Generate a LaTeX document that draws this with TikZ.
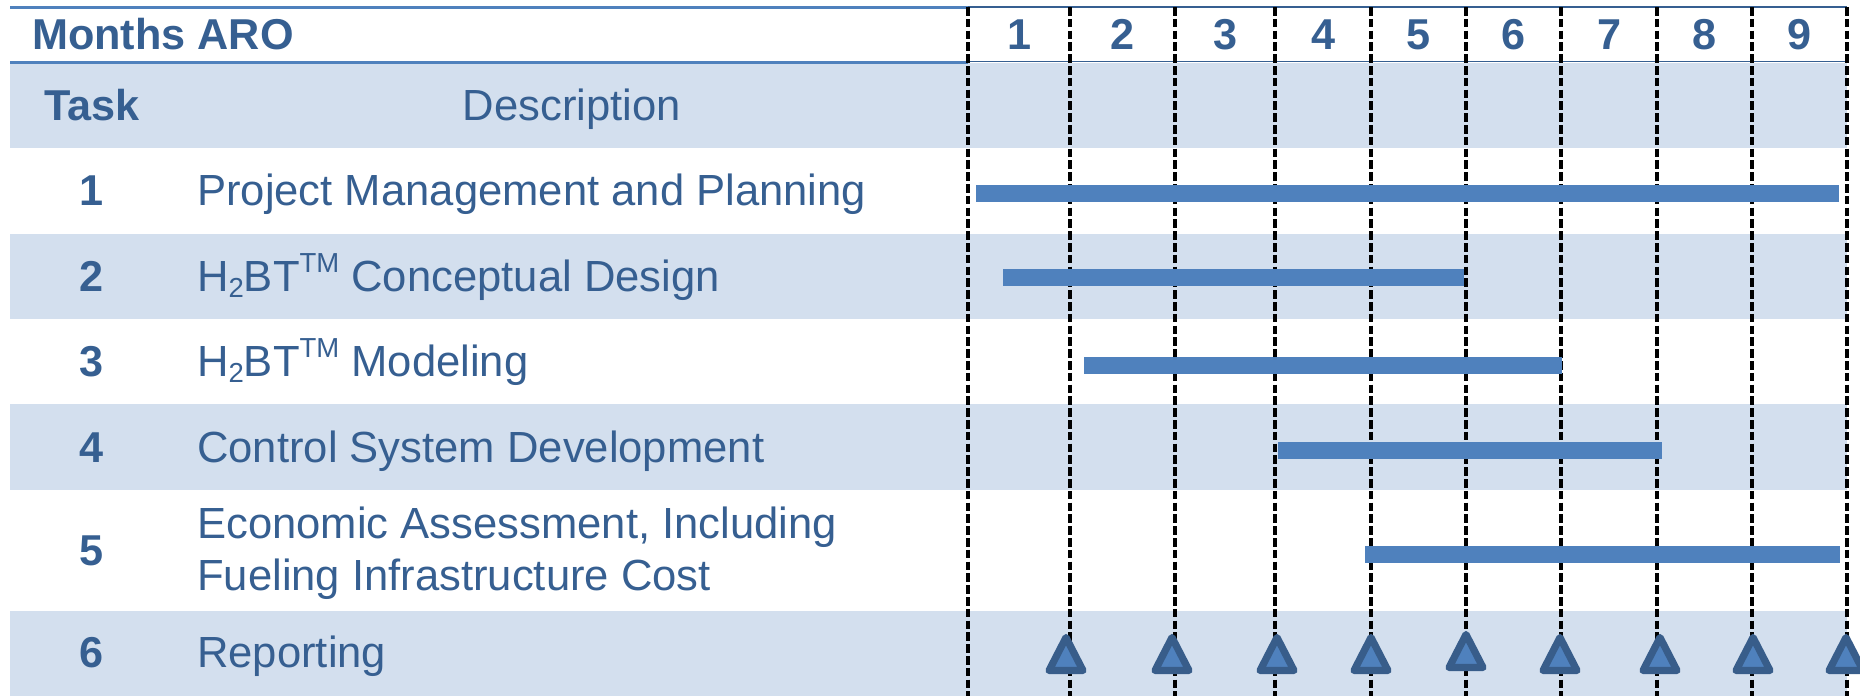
\documentclass[tikz,border=0pt]{standalone}
\usepackage{fontspec}
\setmainfont{Liberation Sans}
\definecolor{txtblue}{HTML}{365F91}
\definecolor{barblue}{HTML}{4F81BD}
\definecolor{shadeblue}{HTML}{D3DFEE}
\definecolor{triblue}{HTML}{385D8A}
\newcommand{\subtwo}{\raisebox{-6pt}{\fontsize{27.5}{27.5}\selectfont 2}}
\newcommand{\suptm}{\raisebox{19pt}{\fontsize{27.5}{27.5}\selectfont TM}}
\begin{document}
\begin{tikzpicture}[x=1pt,y=-1pt,
  hdrtext/.style={text=txtblue, font=\fontsize{43.2}{50}\selectfont\bfseries, anchor=base, inner sep=0pt},
  numtext/.style={text=txtblue, font=\fontsize{43.2}{50}\selectfont\bfseries, anchor=base, inner sep=0pt},
  desctext/.style={text=txtblue, font=\fontsize{43.6}{50}\selectfont, anchor=base west, inner sep=0pt},
  rowshade/.style={fill=shadeblue},
  monthline/.style={black, line width=3.1pt, dash pattern=on 8.5pt off 3.3pt},
  ganttbar/.style={fill=barblue},
  milestone/.style={draw=triblue, fill=barblue, line width=7.2pt, line join=round}
]
\useasboundingbox (0,0) rectangle (1860,696);
% shaded rows
\fill[rowshade] (10,63) rectangle (1847,148);
\fill[rowshade] (10,234) rectangle (1847,319);
\fill[rowshade] (10,404) rectangle (1847,490);
\fill[rowshade] (10,611) rectangle (1847,696);
% header rules
\draw[barblue, line width=3pt] (10,7.5) -- (968,7.5);
\draw[txtblue, line width=1.6pt] (968,6.8) -- (1847,6.8);
\draw[barblue, line width=3.3pt] (10,62.3) -- (968,62.3);
\draw[txtblue, line width=1.6pt] (968,61.4) -- (1847,61.4);
% month dashed lines
\foreach \xx in {968,1070,1175,1275,1371,1466,1561,1657,1752,1847}
  \draw[monthline] (\xx,7) -- (\xx,696);
% header texts
\node[hdrtext, anchor=base west] (months) at (32,49) {Months ARO};
\foreach \xx/\n in {1019/1,1122.5/2,1225/3,1323/4,1418.5/5,1513.5/6,1609/7,1704.5/8,1799.5/9}
  \node[hdrtext] (m\n) at (\xx,49) {\n};
\node[numtext] (task) at (92,120) {Task};
\node[desctext, anchor=base] (description) at (572,120) {Description};
% task numbers
\node[numtext] (t1) at (92,205) {1};
\node[numtext] (t2) at (92,291) {2};
\node[numtext] (t3) at (92,376) {3};
\node[numtext] (t4) at (92,462) {4};
\node[numtext] (t5) at (92,565) {5};
\node[numtext] (t6) at (92,667) {6};
% descriptions
\node[desctext] (d1) at (197,205) {Project Management and Planning};
\node[desctext] (d2) at (197,291) {H\subtwo BT\suptm\ Conceptual Design};
\node[desctext] (d3) at (197,376) {H\subtwo BT\suptm\ Modeling};
\node[desctext] (d4) at (197,462) {Control System Development};
\node[desctext] (d5a) at (197,538) {Economic Assessment, Including};
\node[desctext] (d5b) at (197,590) {Fueling Infrastructure Cost};
\node[desctext] (d6) at (197,667) {Reporting};
% bars
\fill[ganttbar] (976,185) rectangle (1839,202);
\fill[ganttbar] (1003,269) rectangle (1464,286);
\fill[ganttbar] (1084,357) rectangle (1562,374);
\fill[ganttbar] (1278,442) rectangle (1662,459);
\fill[ganttbar] (1365,546) rectangle (1840,563);
% milestones
\foreach \cx/\dy in {1066/0,1172/0,1277/0,1371/0,1466/-3,1560/0,1660/0,1753/0,1846/0}
  \draw[milestone] (\cx,637.5+\dy) -- (\cx+17,670.5+\dy) -- (\cx-17,670.5+\dy) -- cycle;
\end{tikzpicture}
\end{document}
